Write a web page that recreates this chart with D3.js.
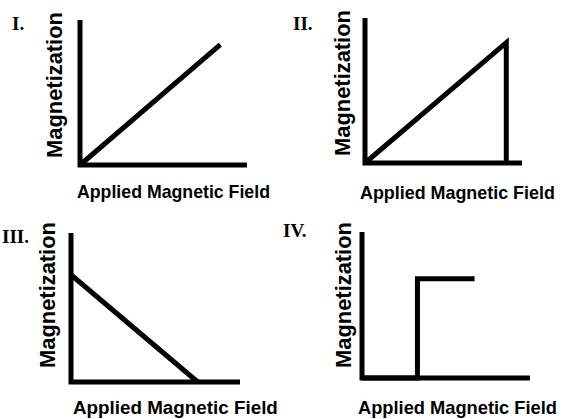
<!DOCTYPE html>
<html>
<head>
<meta charset="utf-8">
<script src="https://cdn.jsdelivr.net/npm/d3@7"></script>
<style>
  body { margin: 0; background: #fff; }
  svg { display: block; }
</style>
</head>
<body>
<svg id="chart" width="565" height="419"></svg>
<script>
// panel numbers and axis titles
const panelNames = ["I.", "II.", "III.", "IV."];
const xTitle = "Applied Magnetic Field";
const yTitle = "Magnetization";

// curve points per panel, in arbitrary units (0..10 on both axes)
const curveI = [[0, 0], [8.4, 8.3]];
const curveII = [[0, 0], [9.0, 8.3], [9.0, 0]];
const curveIII = [[0, 7.2], [7.5, 0]];
const curveIV = [[0, 0], [3.3, 0], [3.3, 6.8], [6.7, 6.8]];
const curves = [curveI, curveII, curveIII, curveIV];

// where each little plot sits on the page
const frames = [
    { x0: 80, x1: 247, y0: 165, y1: 20, yLabX: 62, yLabY: 85, xLabY: 198, xLabX: 77, xLabW: 193, numX: 12, numY: 30 },
    { x0: 365, x1: 522, y0: 163, y1: 18, yLabX: 350, yLabY: 83, xLabY: 199, xLabX: 360, xLabW: 195, numX: 293, numY: 30 },
    { x0: 71, x1: 240, y0: 382, y1: 233, yLabX: 55, yLabY: 295, xLabY: 414, xLabX: 73, xLabW: 205, numX: 2, numY: 243 },
    { x0: 362, x1: 530, y0: 378, y1: 232, yLabX: 351, yLabY: 295, xLabY: 414, xLabX: 358, xLabW: 199, numX: 283, numY: 237 }
];

const labelFont = "'Liberation Sans Narrow', 'Arial Narrow', 'Liberation Sans', sans-serif";
const svg = d3.select("#chart");

// pick a font size so the natural text width matches the wanted width
function fitText(sel, size, width) {
    sel.attr("font-size", size);
    const w = sel.node().getComputedTextLength();
    if (w > 0) sel.attr("font-size", Math.min(size * 1.3, size * width / w));
}

frames.forEach((f, i) => {
    const x = d3.scaleLinear().domain([0, 10]).range([f.x0, f.x1]);
    const y = d3.scaleLinear().domain([0, 10]).range([f.y0, f.y1]);
    const g = svg.append("g");

    // axes drawn as plain thick lines (no ticks in the original)
    g.append("path")
        .attr("d", d3.line()([[x(0), y(10)], [x(0), y(0)], [x(10), y(0)]]))
        .attr("fill", "none")
        .attr("stroke", "#000")
        .attr("stroke-width", 5)
        .attr("stroke-linejoin", "miter");

    g.append("path")
        .datum(curves[i])
        .attr("d", d3.line().x(d => x(d[0])).y(d => y(d[1])))
        .attr("fill", "none")
        .attr("stroke", "#000")
        .attr("stroke-width", 5)
        .attr("stroke-linejoin", "miter");

    const yl = g.append("text")
        .attr("transform", "translate(" + f.yLabX + "," + f.yLabY + ") rotate(-90)")
        .attr("text-anchor", "middle")
        .attr("font-family", labelFont)
        .attr("font-weight", "bold")
        .text(yTitle);
    fitText(yl, 25, 146);

    const xl = g.append("text")
        .attr("x", f.xLabX)
        .attr("y", f.xLabY)
        .attr("font-family", labelFont)
        .attr("font-weight", "bold")
        .text(xTitle);
    fitText(xl, 21, f.xLabW);

    g.append("text")
        .attr("x", f.numX)
        .attr("y", f.numY)
        .attr("font-family", "Liberation Serif, Times New Roman, serif")
        .attr("font-weight", "bold")
        .attr("font-size", 19)
        .text(panelNames[i]);
});
</script>
</body>
</html>
